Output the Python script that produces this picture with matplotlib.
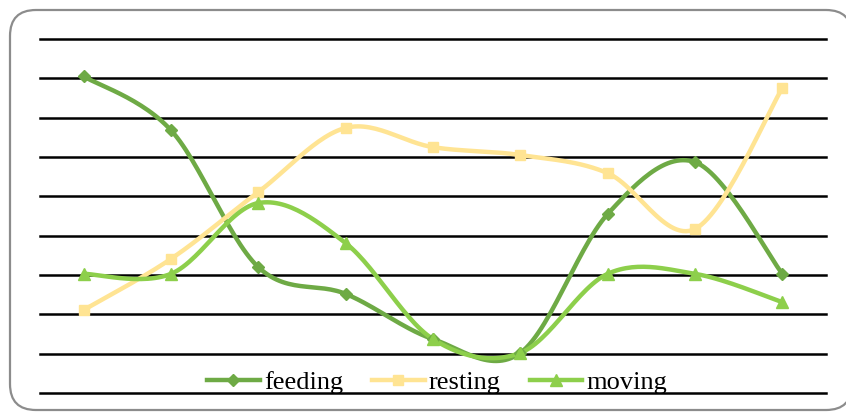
import numpy as np
import matplotlib.pyplot as plt
from matplotlib.patches import FancyBboxPatch
from matplotlib.lines import Line2D

plt.rcParams['font.family'] = ['Liberation Serif', 'DejaVu Serif']

# values (one unit = one grid step)
feeding = [8.05, 6.68, 3.2, 2.52, 1.37, 1.02, 4.55, 5.87, 3.03]
resting = [2.11, 3.41, 5.11, 6.74, 6.25, 6.05, 5.59, 4.17, 7.75]
moving = [3.03, 3.03, 4.83, 3.81, 1.37, 1.02, 3.03, 3.03, 2.31]
names = ['feeding', 'resting', 'moving']
colors = ['#6EAA45', '#FFE493', '#8DCF4B']
markers = ['D', 's', '^']
msizes = [6.5, 7.5, 8.5]


def smooth(xs, ys, n=30):
    # Excel-like smoothed line: cubic bezier through the points
    p = np.column_stack([xs, ys]).astype(float)
    out = [p[0]]
    for i in range(len(p) - 1):
        p0 = p[i - 1] if i > 0 else p[i]
        p1, p2 = p[i], p[i + 1]
        p3 = p[i + 2] if i + 2 < len(p) else p[i + 1]
        c1 = p1 + (p2 - p0) / 6
        c2 = p2 - (p3 - p1) / 6
        t = np.linspace(0, 1, n)[1:, None]
        seg = ((1 - t) ** 3) * p1 + 3 * ((1 - t) ** 2) * t * c1 + 3 * (1 - t) * t ** 2 * c2 + t ** 3 * p2
        out.extend(seg)
    out = np.array(out)
    return out[:, 0], out[:, 1]


fig = plt.figure(figsize=(8.46, 4.12), dpi=100)

# rounded frame, drawn in pixel units
bg = fig.add_axes([0, 0, 1, 1])
bg.set_xlim(0, 846)
bg.set_ylim(412, 0)
bg.axis('off')
bg.add_patch(FancyBboxPatch((10, 10), 842, 400, boxstyle='round,pad=0,rounding_size=26',
                            fc='white', ec='#8c8c8c', lw=1.6))

ax = fig.add_axes([40 / 846, 19 / 412, 786 / 846, 354 / 412])
ax.patch.set_visible(False)
x = np.arange(len(feeding))
for yv in range(10):
    ax.axhline(yv, color='black', lw=1.8, zorder=1, clip_on=False)

handles = []
for vals, name, c, m, ms in zip([feeding, resting, moving], names, colors, markers, msizes):
    sx, sy = smooth(x, vals)
    ax.plot(sx, sy, color=c, lw=3.2, zorder=3, solid_capstyle='round')
    ax.plot(x, vals, ls='none', marker=m, ms=ms, color=c, zorder=4)
    handles.append(Line2D([], [], color=c, lw=3.2, marker=m, ms=ms, label=name))

ax.set_xlim(-0.5, 8.5)
ax.set_ylim(0, 9)
ax.axis('off')

fig.legend(handles=handles, loc='center', bbox_to_anchor=(437 / 846, 30 / 412), ncol=3,
           frameon=False, fontsize=19, handlelength=2.0, handletextpad=0.15,
           columnspacing=1.1, borderpad=0)

fig.savefig('out.png', dpi=100)
